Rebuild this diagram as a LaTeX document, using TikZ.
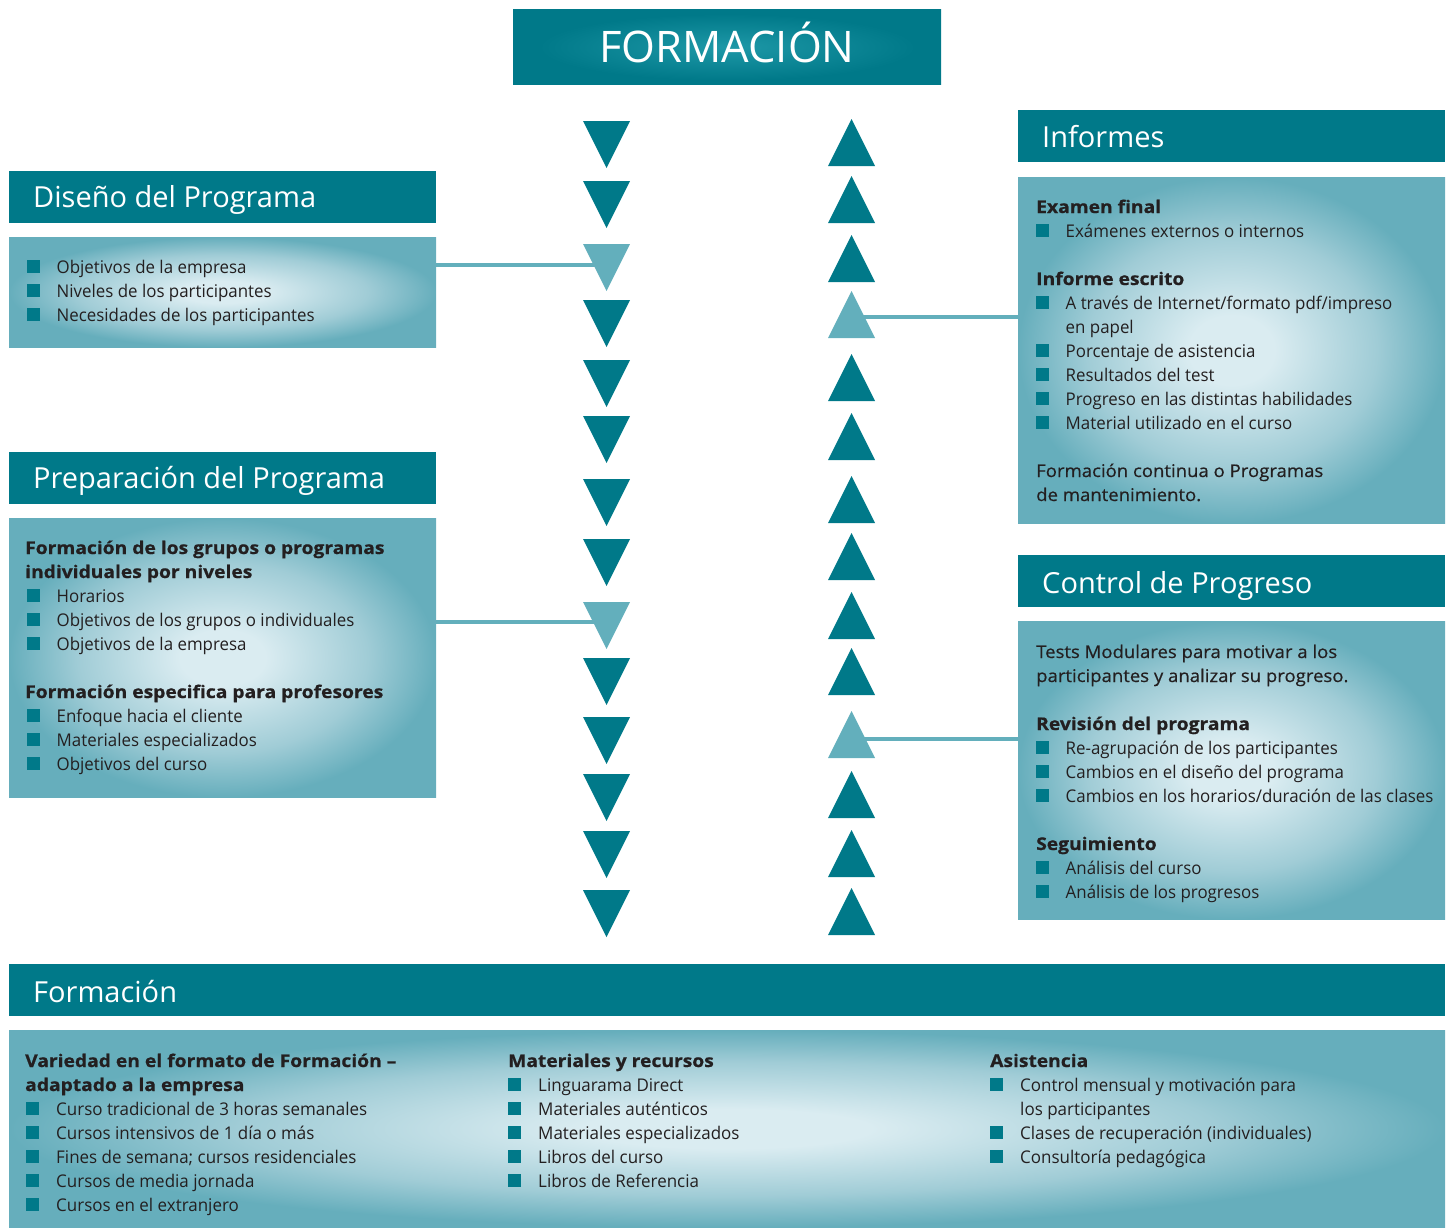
\documentclass[tikz,border=0pt]{standalone}
\usepackage{fontspec}
\setmainfont{Open Sans}[FakeStretch=0.965]
\newfontfamily\headfamily{Open Sans}
\newfontfamily\condfont{Open Sans}[FakeStretch=0.97]
\newfontfamily\medfont{Open Sans}[FakeStretch=1.06, FakeBold=0.5]
\newfontfamily\heavyfont{Open Sans}[FakeStretch=1.1, FakeBold=0.7]
\definecolor{tealdark}{RGB}{0,121,137}
\definecolor{teallight}{RGB}{99,175,188}
\definecolor{glowin}{RGB}{218,236,241}
\definecolor{glowmid}{RGB}{160,204,214}
\definecolor{glowout}{RGB}{102,174,188}
\definecolor{titlein}{RGB}{30,152,167}
\definecolor{textdark}{RGB}{35,31,32}
\pgfdeclareradialshading{boxglow}{\pgfpoint{0bp}{0bp}}{color(0bp)=(glowin); color(5bp)=(glowin); color(17bp)=(glowmid); color(25bp)=(glowout); color(50bp)=(glowout)}
\pgfdeclareradialshading{titleglow}{\pgfpoint{0bp}{0bp}}{color(0bp)=(titlein); color(22bp)=(tealdark); color(50bp)=(tealdark)}
\newcommand\bodyfont{\fontsize{17.5}{24}\selectfont}
\newcommand\bodybold{\fontsize{17.5}{24}\heavyfont\bfseries}
\newcommand\bodymed{\fontsize{17.5}{24}\medfont}
\newcommand\condbody{\fontsize{17.5}{24}\condfont}
\newcommand\condbold{\fontsize{17.5}{24}\heavyfont\bfseries}
\newcommand\headfont{\fontsize{29}{34}\headfamily}
\tikzset{
  header/.style={fill=tealdark, draw=none, inner sep=0, anchor=north west},
  content/.style={shading=boxglow, draw=none, inner sep=0, anchor=north west},
  htext/.style={text=white, font=\headfont, inner sep=0, anchor=base west},
  txt/.style={text=textdark, font=\bodyfont, inner sep=0, anchor=base west},
  btxt/.style={txt, font=\bodybold},
  mtxt/.style={txt, font=\bodymed},
  ctxt/.style={txt, font=\condbody},
  cbtxt/.style={txt, font=\condbold},
  bul/.style={fill=tealdark, draw=none, inner sep=0, minimum width=12.5pt, minimum height=12.5pt, anchor=south west},
  conn/.style={draw=teallight, line width=4pt},
  darktri/.style={fill=tealdark},
  lighttri/.style={fill=teallight},
}
% bullet item: name, bullet x, baseline, text
\newcommand\bitem[4]{\node[bul] (#1b) at (#2,#3) {}; \node[txt] (#1) at (#2+29.5,#3) {#4};}
\newcommand\citem[4]{\node[bul] (#1b) at (#2,#3) {}; \node[ctxt] (#1) at (#2+30,#3) {#4};}
\newcommand\dtri[2]{\fill[#1] (583,#2) -- (630,#2) -- (606.5,#2+47) -- cycle;}
\newcommand\utri[2]{\fill[#1] (851.5,#2) -- (875,#2+47) -- (828,#2+47) -- cycle;}
\begin{document}
\begin{tikzpicture}[x=1pt,y=-1pt]
\useasboundingbox (0,0) rectangle (1453,1227);
% title
\node[shading=titleglow, draw=none, inner sep=0, anchor=north west, minimum width=428pt, minimum height=75pt] (title) at (513,9.5) {};
\node[text=white, font=\fontsize{43.5}{48}\headfamily, inner sep=0, anchor=base] (titletext) at (727,62.5) {FORMACIÓN};
% triangles down
\foreach \t in {121,181,300,360,416,479,539,658,717,774,831,890} {\dtri{darktri}{\t}}
\dtri{lighttri}{244}
\dtri{lighttri}{602}
% triangles up
\foreach \t in {119,176,235,354,413,476,533,592,648,771,830,888} {\utri{darktri}{\t}}
\utri{lighttri}{291}
\utri{lighttri}{711}
% ---- Diseño del Programa
\node[header, minimum width=427pt, minimum height=52pt] (h1) at (9,171) {};
\node[htext] (h1t) at (33,207) {Diseño del Programa};
\node[content, minimum width=427pt, minimum height=110pt] (box1) at (9,237) {};
\bitem{a1}{27}{273}{Objetivos de la empresa}
\bitem{a2}{27}{297}{Niveles de los participantes}
\bitem{a3}{27}{321}{Necesidades de los participantes}
% ---- Preparación del Programa
\node[header, minimum width=427pt, minimum height=52pt] (h2) at (9,452) {};
\node[htext] (h2t) at (33,488) {Preparación del Programa};
\node[content, minimum width=427pt, minimum height=279pt] (box2) at (9,518) {};
\node[btxt] (p0) at (25,554) {Formación de los grupos o programas};
\node[btxt] (p0b) at (25,578) {individuales por niveles};
\bitem{p1}{27}{602}{Horarios}
\bitem{p2}{27}{626}{Objetivos de los grupos o individuales}
\bitem{p3}{27}{650}{Objetivos de la empresa}
\node[btxt] (p4) at (25,698) {Formación especifica para profesores};
\bitem{p5}{27}{722}{Enfoque hacia el cliente}
\bitem{p6}{27}{746}{Materiales especializados}
\bitem{p7}{27}{770}{Objetivos del curso}
% ---- Informes
\node[header, minimum width=427pt, minimum height=52pt] (h3) at (1018,110) {};
\node[htext] (h3t) at (1042,147) {Informes};
\node[content, minimum width=427pt, minimum height=346pt] (box3) at (1018,177) {};
\node[btxt] (i0) at (1036,213) {Examen final};
\bitem{i1}{1036}{237}{Exámenes externos o internos}
\node[btxt] (i2) at (1036,285) {Informe escrito};
\bitem{i3}{1036}{309}{A través de Internet/formato pdf/impreso}
\node[txt] (i3b) at (1065.5,333) {en papel};
\bitem{i4}{1036}{357}{Porcentaje de asistencia}
\bitem{i5}{1036}{381}{Resultados del test}
\bitem{i6}{1036}{405}{Progreso en las distintas habilidades}
\bitem{i7}{1036}{429}{Material utilizado en el curso}
\node[mtxt] (i8) at (1036,477) {Formación continua o Programas};
\node[mtxt] (i9) at (1036,501) {de mantenimiento.};
% ---- Control de Progreso
\node[header, minimum width=427pt, minimum height=52pt] (h4) at (1018,555) {};
\node[htext] (h4t) at (1042,593) {Control de Progreso};
\node[content, minimum width=427pt, minimum height=298pt] (box4) at (1018,621) {};
\node[mtxt] (c0) at (1036,658) {Tests Modulares para motivar a los};
\node[mtxt] (c0b) at (1036,682) {participantes y analizar su progreso.};
\node[btxt] (c1) at (1036,730) {Revisión del programa};
\bitem{c2}{1036}{754}{Re-agrupación de los participantes}
\bitem{c3}{1036}{778}{Cambios en el diseño del programa}
\bitem{c4}{1036}{802}{Cambios en los horarios/duración de las clases}
\node[btxt] (c5) at (1036,850) {Seguimiento};
\bitem{c6}{1036}{874}{Análisis del curso}
\bitem{c7}{1036}{898}{Análisis de los progresos}
% ---- Formación (bottom)
\node[header, minimum width=1436pt, minimum height=52pt] (h5) at (9,964) {};
\node[htext] (h5t) at (33,1002) {Formación};
\node[content, minimum width=1436pt, minimum height=197pt] (box5) at (9,1030) {};
\node[cbtxt] (f0) at (25,1067) {Variedad en el formato de Formación –};
\node[cbtxt] (f0b) at (25,1091) {adaptado a la empresa};
\citem{f1}{26}{1115}{Curso tradicional de 3 horas semanales}
\citem{f2}{26}{1139}{Cursos intensivos de 1 día o más}
\citem{f3}{26}{1163}{Fines de semana; cursos residenciales}
\citem{f4}{26}{1187}{Cursos de media jornada}
\citem{f5}{26}{1211}{Cursos en el extranjero}
\node[cbtxt] (m0) at (508,1067) {Materiales y recursos};
\citem{m1}{508}{1091}{Linguarama Direct}
\citem{m2}{508}{1115}{Materiales auténticos}
\citem{m3}{508}{1139}{Materiales especializados}
\citem{m4}{508}{1163}{Libros del curso}
\citem{m5}{508}{1187}{Libros de Referencia}
\node[cbtxt] (s0) at (990,1067) {Asistencia};
\citem{s1}{990}{1091}{Control mensual y motivación para}
\node[ctxt] (s1b) at (1020,1115) {los participantes};
\citem{s2}{990}{1139}{Clases de recuperación (individuales)}
\citem{s3}{990}{1163}{Consultoría pedagógica}
% ---- connectors
\coordinate (lt1) at (600,265);
\coordinate (lt2) at (600,622);
\coordinate (ut1) at (858,317);
\coordinate (ut2) at (858,739);
\draw[conn] (box1.east |- lt1) -- (lt1);
\draw[conn] (box2.east |- lt2) -- (lt2);
\draw[conn] (box3.west |- ut1) -- (ut1);
\draw[conn] (box4.west |- ut2) -- (ut2);
\end{tikzpicture}
\end{document}
